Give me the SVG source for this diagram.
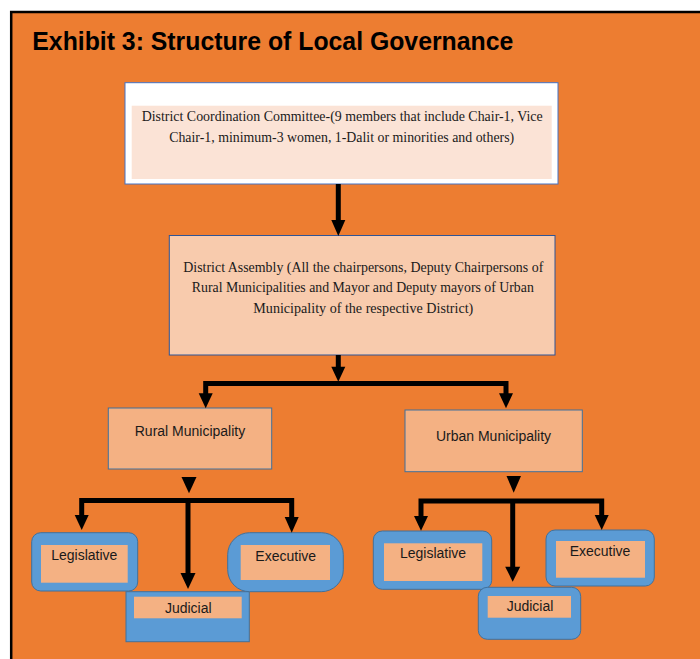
<svg xmlns="http://www.w3.org/2000/svg" width="700" height="659" viewBox="0 0 700 659">
<style>
.serif{font-family:"Liberation Serif","Times New Roman",serif;font-size:14px;fill:#1a1a1a;text-anchor:middle}
.sans{font-family:"Liberation Sans",Arial,sans-serif;font-size:14px;fill:#1a1a1a;text-anchor:middle}
.mid{fill:#F4B183;stroke:#41719C;stroke-width:1}
.blue{fill:#5B9BD5;stroke:#41719C;stroke-width:1}
.inner{fill:#F4B183}
.conn{fill:none;stroke:#000;stroke-width:5;stroke-linejoin:miter}
.head{fill:#000}
</style>
<rect x="0" y="0" width="700" height="659" fill="#fff"/>
<rect x="11.2" y="12" width="700" height="660" fill="#ED7D31" stroke="#000" stroke-width="2.5"/>
<text x="32.3" y="50" font-family="'Liberation Sans',Arial,sans-serif" font-size="25" font-weight="bold" fill="#000" textLength="481" lengthAdjust="spacingAndGlyphs">Exhibit 3: Structure of Local Governance</text>

<g id="dcc">
<rect x="125" y="82.7" width="433" height="101.3" fill="#fff" stroke="#4472C4" stroke-width="1"/>
<rect x="131.7" y="105.7" width="420" height="73.3" fill="#FBE3D6"/>
<text class="serif" x="342.2" y="121" textLength="401" lengthAdjust="spacingAndGlyphs">District Coordination Committee-(9 members that include Chair-1, Vice</text>
<text class="serif" x="341.7" y="142" textLength="345" lengthAdjust="spacingAndGlyphs">Chair-1, minimum-3 women, 1-Dalit or minorities and others)</text>
</g>

<g id="assembly">
<rect x="169.3" y="235.5" width="385.7" height="119.5" fill="#F8CBAD" stroke="#2F5597" stroke-width="1"/>
<text class="serif" x="363.3" y="271.7" textLength="360" lengthAdjust="spacingAndGlyphs">District Assembly (All the chairpersons, Deputy Chairpersons of</text>
<text class="serif" x="362.8" y="291.7" textLength="342" lengthAdjust="spacingAndGlyphs">Rural Municipalities and Mayor and Deputy mayors of Urban</text>
<text class="serif" x="363.3" y="312.5" textLength="220" lengthAdjust="spacingAndGlyphs">Municipality of the respective  District)</text>
</g>

<g id="rural">
<rect class="mid" x="108.3" y="408" width="163.4" height="61"/>
<text class="sans" x="190" y="436">Rural Municipality</text>
</g>
<g id="urban">
<rect class="mid" x="405" y="410" width="177.3" height="61.7"/>
<text class="sans" x="493.5" y="440.7">Urban Municipality</text>
</g>

<g id="rural-legislative">
<rect class="blue" x="31.7" y="532.7" width="106" height="58.3" rx="9"/>
<rect class="inner" x="41" y="545" width="86.7" height="37.7"/>
<text class="sans" x="84.3" y="560">Legislative</text>
</g>
<g id="rural-judicial">
<rect class="blue" x="126" y="591.7" width="123.3" height="50"/>
<rect class="inner" x="134" y="596.7" width="107.7" height="21.6"/>
<text class="sans" x="188.3" y="612.7">Judicial</text>
</g>
<g id="rural-executive">
<rect class="blue" x="227.7" y="532.7" width="115.6" height="59" rx="22"/>
<rect class="inner" x="240.7" y="545" width="89.3" height="35"/>
<text class="sans" x="285.7" y="561" font-size="12.5">Executive</text>
</g>

<g id="urban-legislative">
<rect class="blue" x="373.3" y="531" width="118.4" height="58.3" rx="9"/>
<rect class="inner" x="384" y="543.3" width="98.3" height="37.7"/>
<text class="sans" x="433" y="558.3">Legislative</text>
</g>
<g id="urban-judicial">
<rect class="blue" x="478.3" y="587.3" width="102.4" height="52" rx="9"/>
<rect class="inner" x="487.7" y="596" width="83.3" height="21.7"/>
<text class="sans" x="530" y="610.7">Judicial</text>
</g>
<g id="urban-executive">
<rect class="blue" x="546" y="530" width="108.3" height="56" rx="9"/>
<rect class="inner" x="556" y="541" width="89" height="36.7"/>
<text class="sans" x="600" y="556" font-size="12.5">Executive</text>
</g>

<g id="connectors">
<path class="conn" d="M338.3,184 V221"/>
<polygon class="head" points="331.3,220 345.3,220 338.3,236"/>
<path class="conn" d="M338.3,355 V368"/>
<polygon class="head" points="331.3,366.7 345.3,366.7 338.3,381.7"/>
<path class="conn" d="M205.7,394 V383.5 H506 V394"/>
<polygon class="head" points="198.7,393.3 212.7,393.3 205.7,408.3"/>
<polygon class="head" points="499,393.3 513,393.3 506,408.3"/>

<polygon class="head" points="181.5,477 196.5,477 189,493.3"/>
<polygon class="head" points="506.5,476 521,476 513.7,492.7"/>

<path class="conn" d="M81.7,516 V500.5 H291.7 V518"/>
<polygon class="head" points="74.7,515 88.7,515 81.7,530"/>
<polygon class="head" points="284.7,517 298.7,517 291.7,532.7"/>
<path class="conn" d="M188,500 V575"/>
<polygon class="head" points="180.5,573 195.5,573 188,589"/>

<path class="conn" d="M421,517 V501 H601.7 V516"/>
<polygon class="head" points="414,516 428,516 421,530.7"/>
<polygon class="head" points="594.7,515 608.7,515 601.7,530"/>
<path class="conn" d="M512.7,501 V568"/>
<polygon class="head" points="505.2,566.7 520.2,566.7 512.7,581.7"/>
</g>
</svg>
